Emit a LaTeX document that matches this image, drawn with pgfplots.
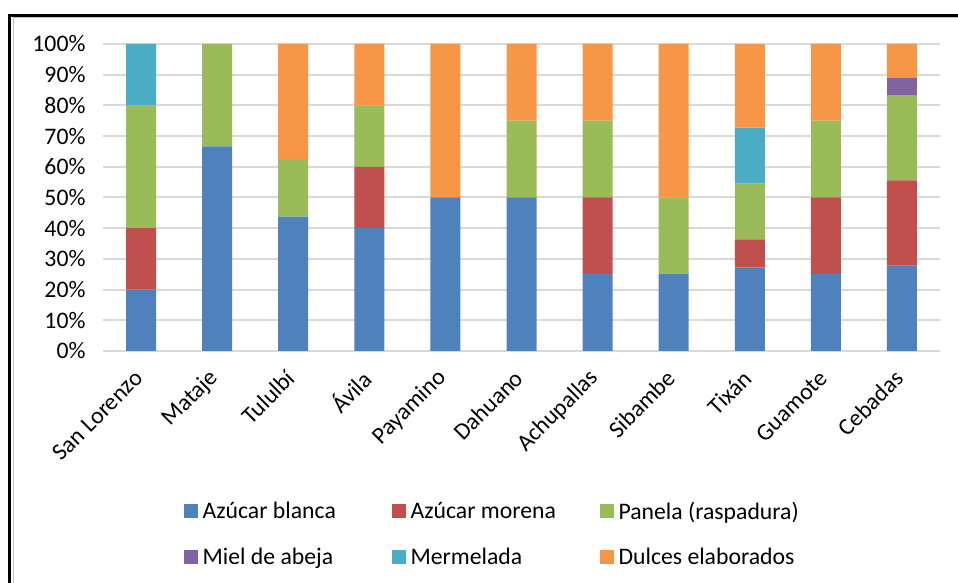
\documentclass[border=0pt]{standalone}
\usepackage{pgfplots}
\pgfplotsset{compat=1.18}
\usepackage{pgfplotstable}
\usepackage{fontspec}
\setmainfont{Carlito}

\definecolor{cBlanca}{HTML}{4F81BD}
\definecolor{cMorena}{HTML}{C0504D}
\definecolor{cPanela}{HTML}{9BBB59}
\definecolor{cMiel}{HTML}{8064A2}
\definecolor{cMermelada}{HTML}{4BACC6}
\definecolor{cDulces}{HTML}{F79646}

% percentages of each product by parish
\pgfplotstableread{
x blanca morena panela miel mermelada dulces
0 20    20    40    0    20    0
1 66.67 0     33.33 0    0     0
2 43.75 0     18.75 0    0     37.5
3 40    20    20    0    0     20
4 50    0     0     0    0     50
5 50    0     25    0    0     25
6 25    25    25    0    0     25
7 25    0     25    0    0     50
8 27.27 9.09  18.18 0    18.18 27.27
9 25    25    25    0    0     25
10 27.78 27.78 27.78 5.56 0    11.11
}\datatable

\newcommand{\lbl}[1]{\makebox[185bp][l]{#1}}

\begin{document}
\begin{tikzpicture}[x=1bp,y=1bp]
\useasboundingbox (0,0) rectangle (958,583);
% chart frame
\draw[black!25, line width=0.8bp] (13,0) -- (13,565.5) -- (958,565.5);
\draw[black, line width=3.5bp] (9.5,0) -- (9.5,567.5) -- (958,567.5);

\begin{axis}[
    at={(103bp,232bp)}, anchor=south west,
    scale only axis, width=837bp, height=307bp,
    ybar stacked, bar width=30bp,
    xmin=-0.5, xmax=10.5, ymin=0, ymax=100,
    xtick={0,...,10},
    xticklabels={San Lorenzo,Mataje,Tululbí,Ávila,Payamino,Dahuano,Achupallas,Sibambe,Tixán,Guamote,Cebadas},
    ytick={0,10,...,100},
    yticklabels={0\%,10\%,20\%,30\%,40\%,50\%,60\%,70\%,80\%,90\%,100\%},
    ymajorgrids, grid style={draw=black!15, line width=2bp},
    axis line style={draw=none},
    major tick length=0,
    tick label style={font=\fontsize{23.8}{28}\selectfont},
    yticklabel style={xshift=-14bp},
    xticklabel style={yshift=-21bp, xshift=0bp, rotate=45, anchor=east},
    legend columns=3,
    legend style={at={(0.0925,-0.478)}, anchor=north west, draw=none, fill=none,
        font=\fontsize{23.8}{28}\selectfont, row sep=23.5bp,
        /tikz/every odd column/.append style={column sep=3bp},
        /tikz/every even column/.append style={column sep=2bp}},
    legend image code/.code={\fill[#1,draw=none] (0bp,-7bp) rectangle (14bp,7bp);},
]
\addplot[fill=cBlanca, draw=none] table[x=x, y=blanca] {\datatable};
\addlegendentry{\lbl{Azúcar blanca}}
\addplot[fill=cMorena, draw=none] table[x=x, y=morena] {\datatable};
\addlegendentry{\lbl{Azúcar morena}}
\addplot[fill=cPanela, draw=none] table[x=x, y=panela] {\datatable};
\addlegendentry{\lbl{Panela (raspadura)}}
\addplot[fill=cMiel, draw=none] table[x=x, y=miel] {\datatable};
\addlegendentry{\lbl{Miel de abeja}}
\addplot[fill=cMermelada, draw=none] table[x=x, y=mermelada] {\datatable};
\addlegendentry{\lbl{Mermelada}}
\addplot[fill=cDulces, draw=none] table[x=x, y=dulces] {\datatable};
\addlegendentry{\lbl{Dulces elaborados}}
\end{axis}
\end{tikzpicture}
\end{document}
